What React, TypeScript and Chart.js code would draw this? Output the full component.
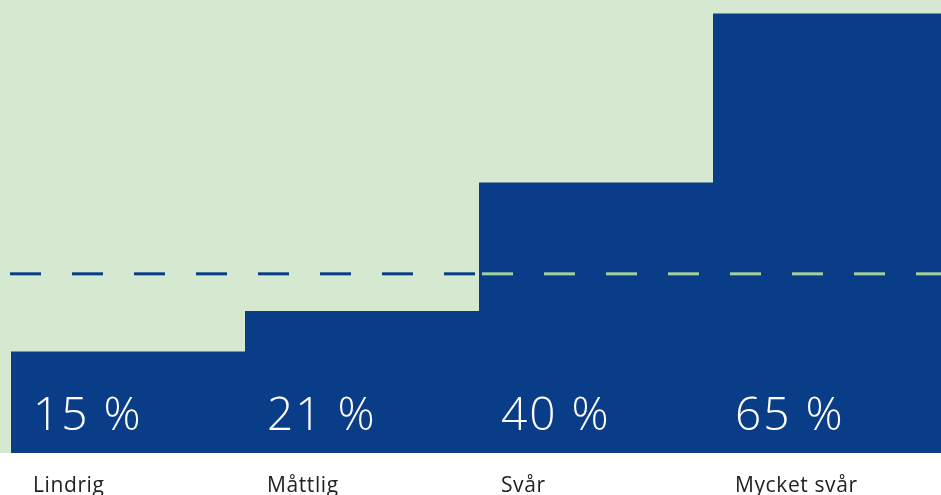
import React, { useEffect, useRef } from "react";
import { Chart, registerables } from "chart.js";

Chart.register(...registerables);

const categories = ["Lindrig", "Måttlig", "Svår", "Mycket svår"];
const values = [15, 21, 40, 65];
const valueLabels = ["15 %", "21 %", "40 %", "65 %"];
const referenceLine = 26.5;
const yMax = 67;

const BLUE = "#0a3d87";
const BG_GREEN = "#d4e9d0";
const LINE_GREEN = "#a5d19e";

const overlayPlugin = {
  id: "overlay",
  beforeDraw(chart: any) {
    const { ctx, chartArea } = chart;
    ctx.save();
    ctx.fillStyle = BG_GREEN;
    ctx.fillRect(0, 0, chart.width, chartArea.bottom);
    ctx.restore();
  },
  afterDatasetsDraw(chart: any) {
    const { ctx, chartArea, scales } = chart;
    const y = scales.y;
    const meta = chart.getDatasetMeta(0);
    const ly = y.getPixelForValue(referenceLine);
    ctx.save();
    let firstTall = values.findIndex((v) => v > referenceLine);
    if (firstTall < 0) firstTall = values.length;
    const splitX =
      firstTall < values.length
        ? meta.data[firstTall].x - meta.data[firstTall].width / 2
        : chartArea.right;
    ctx.lineWidth = 3;
    ctx.setLineDash([31, 31]);
    ctx.strokeStyle = BLUE;
    ctx.beginPath();
    ctx.moveTo(chartArea.left - 1, ly);
    ctx.lineTo(splitX, ly);
    ctx.stroke();
    ctx.strokeStyle = LINE_GREEN;
    ctx.beginPath();
    ctx.moveTo(splitX + 3, ly);
    ctx.lineTo(chartArea.right, ly);
    ctx.stroke();
    ctx.setLineDash([]);

    ctx.textAlign = "left";
    ctx.textBaseline = "alphabetic";
    meta.data.forEach((bar: any, i: number) => {
      const left = bar.x - bar.width / 2 + 22;
      ctx.fillStyle = "#ffffff";
      ctx.font = "300 46px 'Open Sans', Lato, sans-serif";
      (ctx as any).letterSpacing = "2px";
      ctx.fillText(valueLabels[i], left, 430);
      ctx.fillStyle = "#222222";
      ctx.font = "400 21px 'Open Sans', Lato, sans-serif";
      (ctx as any).letterSpacing = "0.6px";
      ctx.fillText(categories[i], left, 492);
    });
    (ctx as any).letterSpacing = "0px";
    ctx.restore();
  },
};

export default function App() {
  const ref = useRef<HTMLCanvasElement | null>(null);
  useEffect(() => {
    if (!ref.current) return;
    const chart = new Chart(ref.current, {
      type: "bar",
      data: {
        labels: categories,
        datasets: [
          {
            data: values,
            backgroundColor: BLUE,
            borderWidth: 0,
            inflateAmount: 0,
            barPercentage: 1,
            categoryPercentage: 1,
          } as any,
        ],
      },
      options: {
        animation: false,
        responsive: false,
        maintainAspectRatio: false,
        layout: { padding: { left: 11, right: 0, top: 0, bottom: 42 } },
        plugins: { legend: { display: false }, tooltip: { enabled: false } },
        scales: {
          x: { display: false },
          y: { display: false, min: 0, max: yMax },
        },
      },
      plugins: [overlayPlugin],
    });
    return () => chart.destroy();
  }, []);
  return (
    <div
      style={{
        position: "absolute",
        left: 0,
        top: 0,
        width: 941,
        height: 495,
        overflow: "hidden",
        background: "#ffffff",
      }}
    >
      <canvas ref={ref} width={947} height={495} style={{ display: "block" }} />
    </div>
  );
}
